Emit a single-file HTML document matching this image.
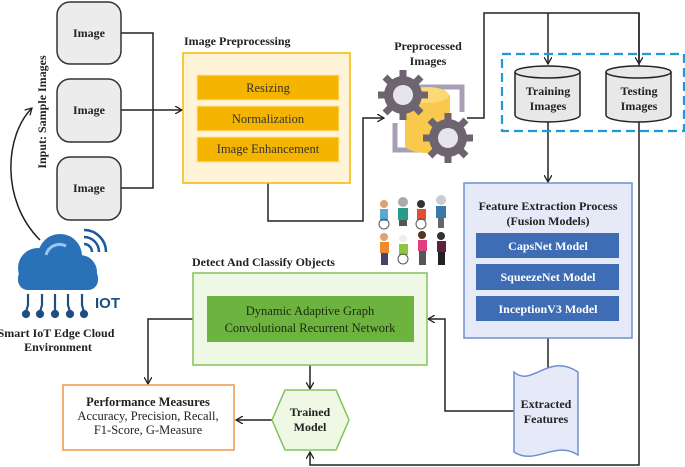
<!DOCTYPE html>
<html><head><meta charset="utf-8"><style>
html,body{margin:0;padding:0;background:#fff}
svg{display:block;font-family:"Liberation Serif",serif}
.b{font-weight:bold}
</style></head><body>
<svg width="685" height="467" viewBox="0 0 685 467" xmlns="http://www.w3.org/2000/svg">
<defs>
<marker id="a" markerWidth="8" markerHeight="8" refX="7" refY="4" orient="auto" markerUnits="userSpaceOnUse">
<path d="M0,0 L7,4 L0,8" fill="none" stroke="#222" stroke-width="1.3"/></marker>
</defs>
<g stroke="#222" stroke-width="1.5" fill="none">
<path d="M121,33 H153 V188 H121"/>
<path d="M121,110 H182" marker-end="url(#a)"/>
<path d="M268,183 V221 H363 V118 H384" marker-end="url(#a)"/>
<path d="M467,118 H484 V13 H639 V465 H310 V452" marker-end="url(#a)"/>
<path d="M548,13 V64" marker-end="url(#a)"/>
<path d="M639,13 V64" marker-end="url(#a)"/>
<path d="M548,122 V182" marker-end="url(#a)"/>
<path d="M548,338 V378" marker-end="url(#a)"/>
<path d="M514,411 H445 V319 H428" marker-end="url(#a)"/>
<path d="M193,319 H148 V384" marker-end="url(#a)"/>
<path d="M310,365 V389" marker-end="url(#a)"/>
<path d="M272,420 H236" marker-end="url(#a)"/>
<path d="M40,240 C0,200 5,135 32,108" marker-end="url(#a)"/>
</g>
<g fill="#ececec" stroke="#333" stroke-width="1.5">
<rect x="57" y="2" width="64" height="62" rx="13"/>
<rect x="57" y="79" width="64" height="63" rx="13"/>
<rect x="57" y="157" width="64" height="63" rx="13"/>
</g>
<g class="b" font-size="12" text-anchor="middle" fill="#222">
<text x="89" y="37">Image</text><text x="89" y="114">Image</text><text x="89" y="192">Image</text>
</g>
<text class="b" font-size="12" transform="translate(46,112) rotate(-90)" text-anchor="middle" fill="#222">Input: Sample Images</text>
<text class="b" x="184" y="45" font-size="12" fill="#222">Image Preprocessing</text>
<rect x="183" y="53" width="167" height="130" fill="#fff4d8" stroke="#f5b800" stroke-width="1.5"/>
<g fill="#f5b400" stroke="#fde5a0"><rect x="197" y="75" width="142" height="25"/><rect x="197" y="106" width="142" height="25"/><rect x="197" y="137" width="142" height="25"/></g>
<g font-size="12.5" text-anchor="middle" fill="#333"><text x="268" y="92">Resizing</text><text x="268" y="123">Normalization</text><text x="268" y="153">Image Enhancement</text></g>
<text class="b" x="428" y="50" font-size="12" text-anchor="middle" fill="#222">Preprocessed</text>
<text class="b" x="428" y="65" font-size="12" text-anchor="middle" fill="#222">Images</text>
<path d="M413,87 H462 V112" fill="none" stroke="#a99fb4" stroke-width="5"/>
<path d="M428,150 H395 V123" fill="none" stroke="#a99fb4" stroke-width="5"/>
<rect x="405" y="95" width="45" height="50" fill="#f8c94c"/>
<ellipse cx="427" cy="95" rx="22" ry="8" fill="#fbd977"/>
<ellipse cx="427" cy="145" rx="22" ry="8" fill="#f8c94c"/>
<g fill="#6d6470"><circle cx="403" cy="95" r="19"/><circle cx="448" cy="138" r="19"/></g>
<g stroke="#6d6470" stroke-width="7"><path d="M403,70 V120 M378,95 H428 M385,77 L421,113 M421,77 L385,113"/><path d="M448,113 V163 M423,138 H473 M430,120 L466,156 M466,120 L430,156"/></g>
<circle cx="403" cy="95" r="10" fill="#e6e6ea"/><circle cx="448" cy="138" r="10" fill="#e6e6ea"/>
<rect x="502" y="54" width="182" height="77" fill="none" stroke="#1e9ad6" stroke-width="2.2" stroke-dasharray="9,5"/>
<g fill="#e8e8e8" stroke="#222" stroke-width="1.5">
<path d="M515,72 V115 A32.5,7 0 0 0 580,115 V72"/><ellipse cx="547.5" cy="72" rx="32.5" ry="6"/>
<path d="M606,72 V115 A32.5,7 0 0 0 671,115 V72"/><ellipse cx="638.5" cy="72" rx="32.5" ry="6"/>
</g>
<g class="b" font-size="12" text-anchor="middle" fill="#222">
<text x="548" y="95">Training</text><text x="548" y="110">Images</text>
<text x="639" y="95">Testing</text><text x="639" y="110">Images</text>
</g>
<rect x="464" y="183" width="168" height="155" fill="#e6eaf8" stroke="#6e8fd0" stroke-width="1.5"/>
<g class="b" font-size="12" text-anchor="middle" fill="#222"><text x="548" y="210">Feature Extraction Process</text><text x="548" y="225">(Fusion Models)</text></g>
<g fill="#3f6db5"><rect x="476" y="233" width="143" height="25"/><rect x="476" y="264" width="143" height="26"/><rect x="476" y="296" width="143" height="25"/></g>
<g class="b" font-size="12" text-anchor="middle" fill="#fff"><text x="548" y="250">CapsNet Model</text><text x="548" y="281">SqueezeNet Model</text><text x="548" y="313">InceptionV3 Model</text></g>
<path d="M514,372 C532,388 548,352 578,372 V455 C555,440 535,466 514,452 Z" fill="#e6eaf8" stroke="#6e8fd0" stroke-width="1.5"/>
<g class="b" font-size="12" text-anchor="middle" fill="#222"><text x="546" y="408">Extracted</text><text x="546" y="423">Features</text></g>
<text class="b" x="192" y="266" font-size="12" fill="#222">Detect And Classify Objects</text>
<rect x="193" y="273" width="234" height="92" fill="#eef8e4" stroke="#82c45a" stroke-width="1.5"/>
<rect x="207" y="296" width="207" height="46" fill="#6db33f"/>
<g font-size="12.5" text-anchor="middle" fill="#1d2a10"><text x="310" y="315">Dynamic Adaptive Graph</text><text x="310" y="332">Convolutional Recurrent Network</text></g>
<rect x="63" y="385" width="171" height="65" fill="#fff" stroke="#f0954a" stroke-width="1.5"/>
<g font-size="12.5" text-anchor="middle" fill="#222"><text class="b" x="148" y="406">Performance Measures</text><text x="148" y="420">Accuracy, Precision, Recall,</text><text x="148" y="434">F1-Score, G-Measure</text></g>
<polygon points="285,390 336,390 349,420 336,450 285,450 272,420" fill="#eef8e4" stroke="#82c45a" stroke-width="1.5"/>
<g class="b" font-size="12" text-anchor="middle" fill="#222"><text x="310" y="416">Trained</text><text x="310" y="431">Model</text></g>
<g fill="#2a72b8">
<circle cx="38" cy="268" r="20"/><circle cx="60" cy="256" r="22"/><circle cx="80" cy="272" r="17"/>
<rect x="18" y="268" width="80" height="22" rx="10"/>
</g>
<path d="M46,255 A14,14 0 0 1 66,246" fill="none" stroke="#9cc6ee" stroke-width="3"/>
<g fill="none" stroke="#1c5a9a" stroke-width="2.5"><path d="M84,244 A8,8 0 0 1 92,252"/><path d="M84,237 A15,15 0 0 1 99,252"/><path d="M84,230 A22,22 0 0 1 106,252"/></g>
<g stroke="#1c4f82" stroke-width="2.2" fill="#1c4f82">
<path d="M28,294 V305 L26,312" fill="none"/><circle cx="26" cy="314" r="3"/>
<path d="M42,294 V305 L40,312" fill="none"/><circle cx="40" cy="314" r="3"/>
<path d="M55,294 V314" fill="none"/><circle cx="55" cy="314" r="3"/>
<path d="M68,294 V305 L70,312" fill="none"/><circle cx="70" cy="314" r="3"/>
<path d="M82,294 V305 L84,312" fill="none"/><circle cx="84" cy="314" r="3"/>
</g>
<text x="95" y="308" font-family="Liberation Sans,sans-serif" font-weight="bold" font-size="15" fill="#1c4f82">IOT</text>
<g class="b" font-size="12" text-anchor="middle" fill="#222"><text x="56" y="337">Smart IoT Edge Cloud</text><text x="58" y="351">Environment</text></g>
<g>
<g transform="translate(380,200)"><circle cx="4" cy="4" r="4" fill="#e0a070"/><rect x="0" y="9" width="8" height="12" fill="#5aa9d6"/><circle cx="4" cy="24" r="5" fill="none" stroke="#555"/></g>
<g transform="translate(398,198)"><circle cx="5" cy="4" r="5" fill="#aaa"/><rect x="0" y="10" width="10" height="12" fill="#2a9a8a"/><rect x="1" y="22" width="8" height="6" fill="#555"/></g>
<g transform="translate(417,200)"><circle cx="4" cy="4" r="4" fill="#333"/><rect x="0" y="9" width="9" height="11" fill="#e05030"/><circle cx="4" cy="24" r="5" fill="none" stroke="#555"/></g>
<g transform="translate(436,196)"><circle cx="5" cy="4" r="5" fill="#ccc"/><rect x="0" y="10" width="10" height="12" fill="#3a7aa8"/><rect x="2" y="22" width="6" height="10" fill="#666"/></g>
<g transform="translate(380,233)"><circle cx="4" cy="4" r="4" fill="#e0a070"/><rect x="0" y="9" width="9" height="11" fill="#f08a30"/><rect x="1" y="20" width="7" height="12" fill="#446"/></g>
<g transform="translate(399,235)"><circle cx="4" cy="4" r="4" fill="#eee"/><rect x="0" y="9" width="9" height="11" fill="#8cc63f"/><circle cx="4" cy="24" r="5" fill="none" stroke="#555"/></g>
<g transform="translate(418,231)"><circle cx="4" cy="4" r="4" fill="#5a3020"/><rect x="0" y="9" width="9" height="11" fill="#e04080"/><rect x="1" y="20" width="7" height="14" fill="#555"/></g>
<g transform="translate(437,232)"><circle cx="4" cy="4" r="4" fill="#333"/><rect x="0" y="9" width="9" height="11" fill="#602040"/><rect x="1" y="20" width="7" height="13" fill="#222"/></g>
</g>
</svg>
</body></html>
